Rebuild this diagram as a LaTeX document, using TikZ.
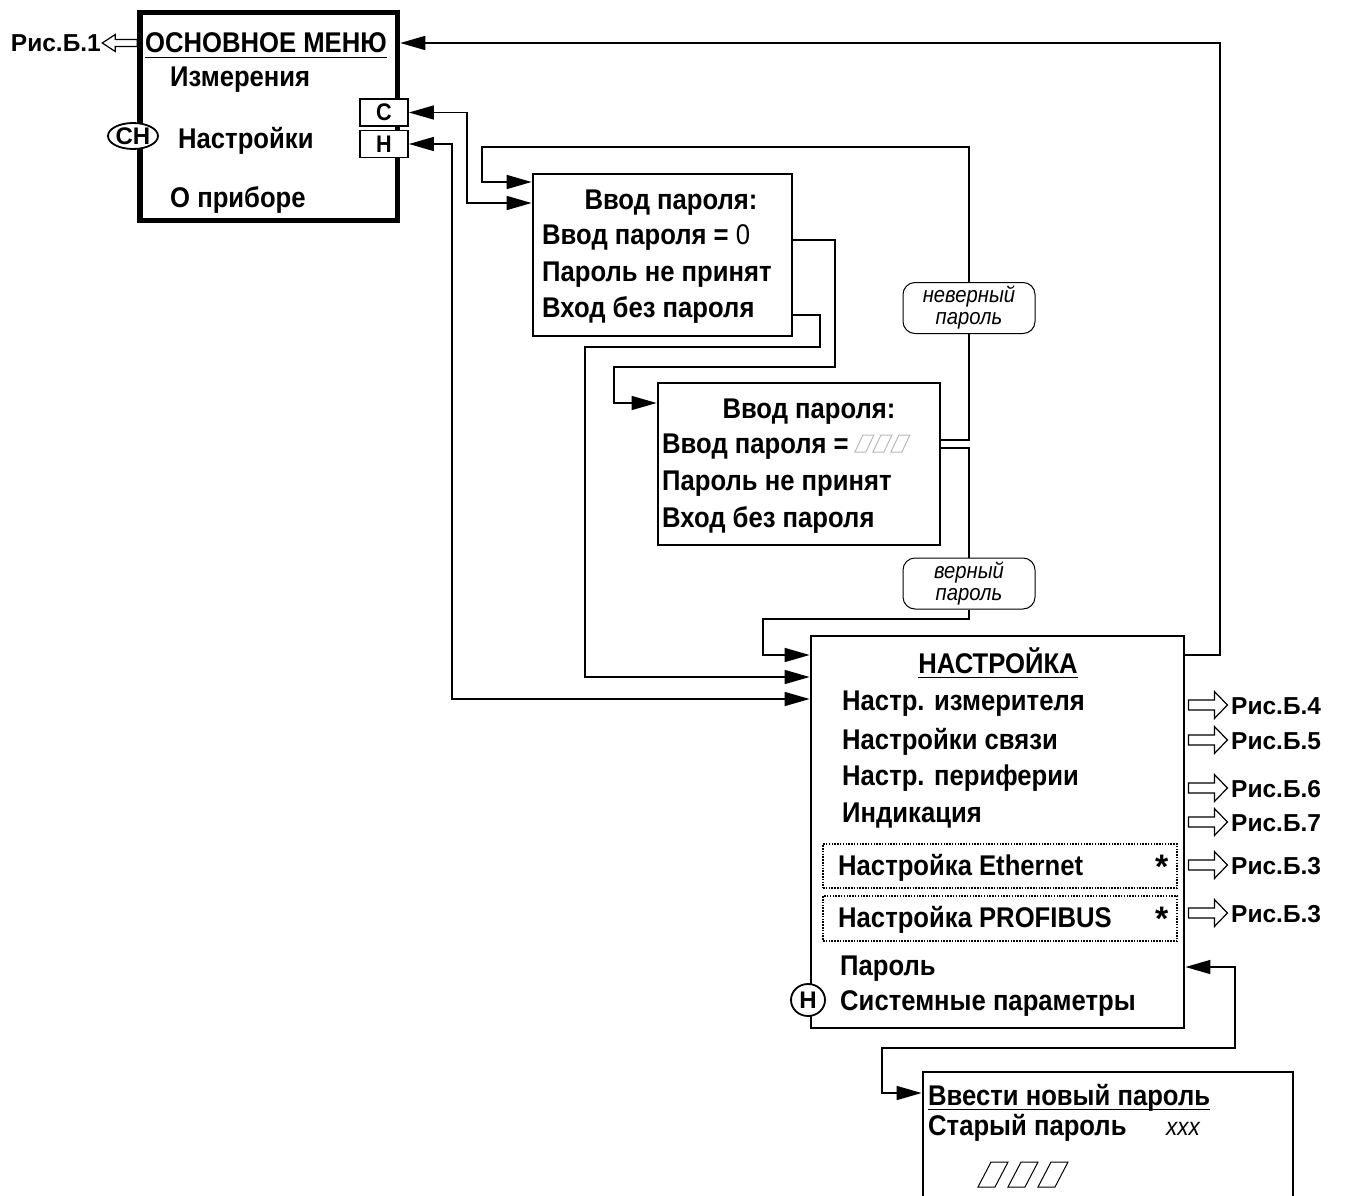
\documentclass[tikz,border=0pt]{standalone}
\usepackage{fontspec}
\setmainfont{Liberation Sans}[FakeStretch=0.9]
\newfontfamily\figfont{Liberation Sans}
\usepackage{tikz}
\usetikzlibrary{arrows.meta, shapes.geometric}

\begin{document}
\begin{tikzpicture}[
  x=1pt, y=-1pt,
  >={Triangle[length=25pt,width=14pt]},
  box/.style = {draw, line width=2.8pt, inner sep=0pt},
  item/.style = {anchor=base west, inner sep=0pt, font=\bfseries\fontsize{28.5}{32}\selectfont},
  fig/.style = {anchor=base west, inner sep=0pt, font=\figfont\bfseries\fontsize{24.5}{30}\selectfont},
  key/.style = {draw, fill=white, line width=1.8pt, minimum width=48pt, minimum height=27pt, inner sep=0pt, font=\bfseries\fontsize{24}{26}\selectfont},
  oval/.style = {ellipse, draw, fill=white, line width=1.8pt, inner sep=0pt, text height=17pt, text depth=0pt, font=\figfont\bfseries\fontsize{24}{26}\selectfont},
  tag/.style = {draw, fill=white, rounded corners=12pt, line width=1pt, minimum width=132pt, minimum height=51pt, inner sep=0pt, align=center, font=\itshape\fontsize{22.5}{22}\selectfont},
  conn/.style = {line width=1.5pt},
  dotbox/.style = {draw, line width=1.5pt, dash pattern=on 1.5pt off 1.3pt, minimum width=354pt, inner sep=0pt},
  star/.style = {anchor=base west, inner sep=0pt, font=\figfont\bfseries\fontsize{34}{34}\selectfont},
  ul/.style = {line width=1.8pt},
  cell/.style = {line width=1pt},
  figarrow/.pic = {\draw[line width=1.2pt, fill=white] (3,-5) -- (29,-5) -- (29,-13.5) -- (42,0) -- (29,13.5) -- (29,5) -- (3,5) -- cycle;},
  backarrow/.pic = {\draw[line width=1.2pt, fill=white] (0,-3.5) -- (-22,-3.5) -- (-22,-8.5) -- (-35,0) -- (-22,8.5) -- (-22,3.5) -- (0,3.5) -- cycle;}
]
\useasboundingbox (0,0) rectangle (1346,1196);

\node[box, line width=5.5pt, minimum width=257.5pt, minimum height=208pt] (menu) at (268.75,116.5) {};
\node[key] (keyC) at (384,112.5) {С};
\node[key] (keyH) at (384,144) {Н};
\node[oval, minimum width=50pt, minimum height=26pt] (ovalCH) at (133,136) {СН};
\node[item] (mTitle) at (145,53) {ОСНОВНОЕ МЕНЮ};
\draw[ul] ([yshift=-4.5pt]mTitle.base west) -- ([yshift=-4.5pt]mTitle.base east);
\node[item] (mMeas) at (170,87) {Измерения};
\node[item] (mSet) at (178,149) {Настройки};
\node[item] (mAbout) at (170,207) {О приборе};
\node[fig, anchor=base east] (figB1) at (101,52) {Рис.Б.1};
\pic at (menu.west |- 0,43) {backarrow};

\node[box, minimum width=259pt, minimum height=162pt] (pw1) at (662.5,255) {};
\node[item, anchor=base] (p1Title) at (671,209) {Ввод пароля:};
\node[item] (p1Zero) at (542,244) {Ввод пароля = {\mdseries 0}};
\node[item] (p1Fail) at (542,281) {Пароль не принят};
\node[item] (p1Skip) at (542,317) {Вход без пароля};

\node[box, minimum width=282pt, minimum height=162pt] (pw2) at (799,464) {};
\node[item, anchor=base] (p2Title) at (809,418) {Ввод пароля:};
\node[item] (p2Enter) at (662,453) {Ввод пароля =};
\foreach \i in {0,1,2}
  \draw[cell, gray!55] (p2Enter.base east) ++(6+18*\i,-1) -- ++(11,0) -- ++(8,-17) -- ++(-11,0) -- cycle;
\node[item] (p2Fail) at (662,490) {Пароль не принят};
\node[item] (p2Skip) at (662,527) {Вход без пароля};

\node[box, minimum width=373pt, minimum height=392pt] (nast) at (997.5,832) {};
\node[item, anchor=base] (nTitle) at (998,673) {НАСТРОЙКА};
\draw[ul] ([yshift=-4.5pt]nTitle.base west) -- ([yshift=-4.5pt]nTitle.base east);
\node[item] (nMeter) at (842,710) {Настр. измерителя};
\node[item] (nLink) at (842,749) {Настройки связи};
\node[item] (nPeriph) at (842,785) {Настр. периферии};
\node[item] (nDisp) at (842,822) {Индикация};
\node[dotbox, minimum height=44pt] (ethBox) at (1000,866) {};
\node[dotbox, minimum height=45pt] (profBox) at (1000,918.5) {};
\node[item] (nEth) at (838,875) {Настройка Ethernet};
\node[item] (nProf) at (838,927) {Настройка PROFIBUS};
\node[star] (ethStar) at (1155,878) {*};
\node[star] (profStar) at (1155,930) {*};
\node[item] (nPass) at (840,975) {Пароль};
\node[item] (nSys) at (840,1010) {Системные параметры};
\node[oval, minimum width=34pt, minimum height=32pt] (ovalH) at (808,1000) {Н};

\node[box, minimum width=370pt, minimum height=170pt] (newPw) at (1108,1157) {};
\node[item] (newTitle) at (928,1105) {Ввести новый пароль};
\draw[ul] ([yshift=-4.5pt]newTitle.base west) -- ([yshift=-4.5pt]newTitle.base east);
\node[item] (newOld) at (928,1135) {Старый пароль};
\node[anchor=base west, inner sep=0pt, font=\itshape\fontsize{25}{26}\selectfont] (newXxx) at (1166,1135) {xxx};
\foreach \i in {0,1,2}
  \draw[cell] (978+30*\i,1187) -- ++(17,0) -- ++(13,-25) -- ++(-17,0) -- cycle;

\node[tag] (wrongPw) at (969,308) {неверный\\пароль};
\node[tag] (rightPw) at (969,583.5) {верный\\пароль};

\draw[conn, ->] (nast.east |- 0,655) -- (1220,655) |- (menu.east |- 0,43);
\draw[conn, <->] (keyC.east) -| (467,203) -- (pw1.west |- 0,203);
\draw[conn, <->] (keyH.east) -| (452,699) -- (nast.west |- 0,699);
\draw[conn] (pw2.east |- 0,440) -| (wrongPw.south);
\draw[conn, ->] (wrongPw.north) |- (482,147) |- (pw1.west |- 0,182);
\draw[conn] (pw2.east |- 0,448) -| (rightPw.north);
\draw[conn, ->] (rightPw.south) |- (763,619) |- (nast.west |- 0,655);
\draw[conn, ->] (pw1.east |- 0,240) -| (835,367) -| (614,403) -- (pw2.west |- 0,403);
\draw[conn, ->] (pw1.east |- 0,315) -| (820,347) -| (585,677) -- (nast.west |- 0,677);
\draw[conn, <->] (nast.east |- 0,967) -| (1235,1048) -| (882,1093) -- (newPw.west |- 0,1093);

\foreach \y/\n in {705/4, 740/5, 788/6, 822/7, 865/3, 913/3} {
  \pic at (nast.east |- 0,\y) {figarrow};
  \node[fig] (ref\y) at (1231,\y+9) {Рис.Б.\n};
}
\end{tikzpicture}
\end{document}
